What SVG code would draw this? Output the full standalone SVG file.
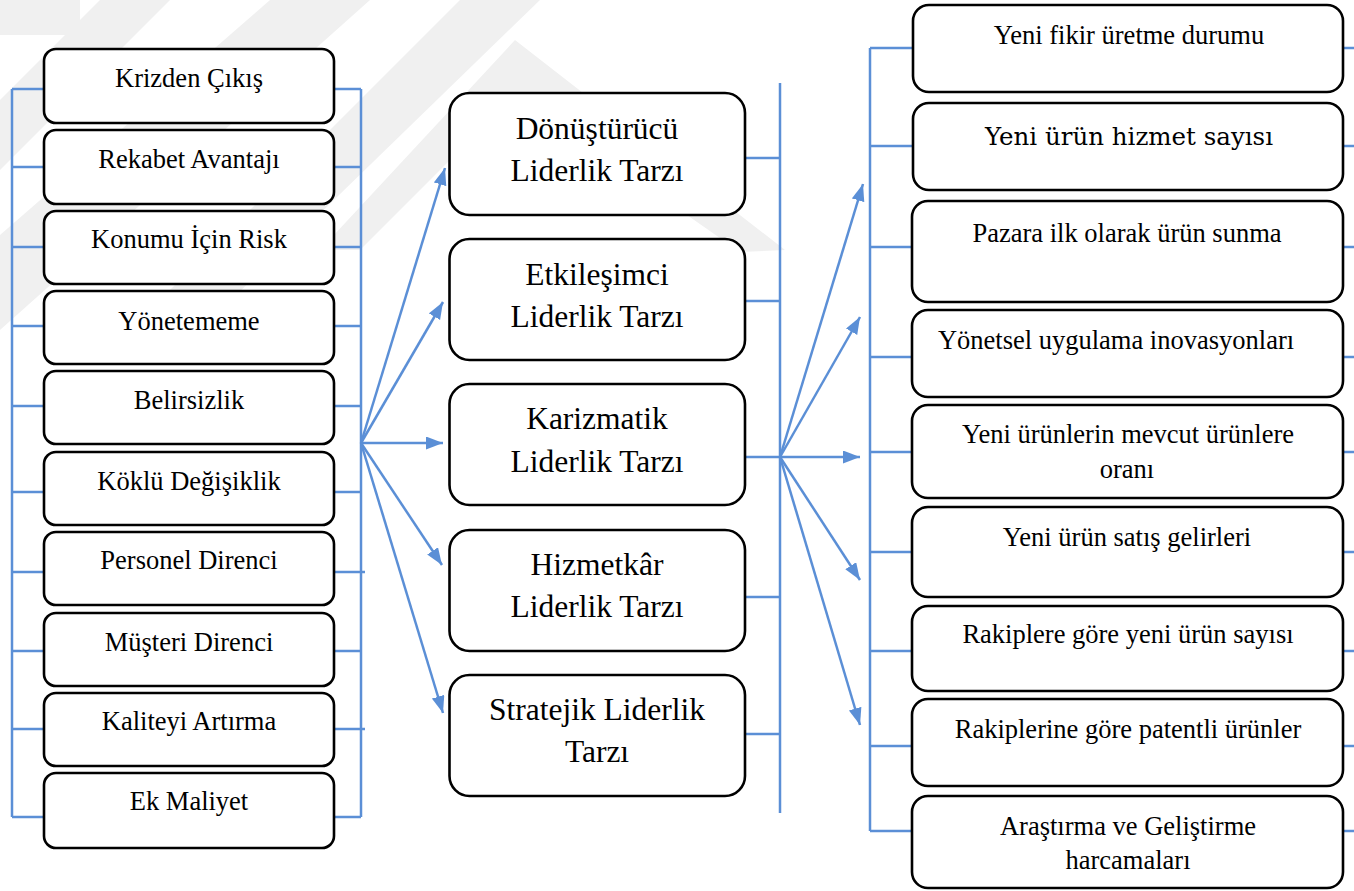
<svg xmlns="http://www.w3.org/2000/svg" width="1354" height="891" viewBox="0 0 1354 891">
<defs>
<style>
.box{fill:#ffffff;stroke:#000000;stroke-width:2.6}
.ln{fill:none;stroke:#5B8FD6;stroke-width:2.5}
text{font-family:'Liberation Serif','Times New Roman',Times,serif;fill:#000000;text-anchor:middle}
.s{font-size:26.5px}
.m{font-size:31.5px}
text.c{font-family:'DejaVu Serif',serif;font-size:24.5px}
.wm{fill:#f0f0f0}
</style>
<marker id="ah" markerUnits="userSpaceOnUse" markerWidth="18" markerHeight="14" refX="17" refY="6.5" orient="auto">
<path d="M0,0 L17,6.5 L0,13 z" fill="#5B8FD6"/>
</marker>
</defs>
<rect width="1354" height="891" fill="#ffffff"/>
<g id="watermark">
<polygon class="wm" points="0,0 80,0 80,35 0,35"/>
<polygon class="wm" points="100,0 170,0 0,170 0,100"/>
<polygon class="wm" points="270,0 370,0 0,330 0,235"/>
<polygon class="wm" points="460,0 540,0 200,330 130,330"/>
<polygon class="wm" points="515,40 785,250 740,252 515,95 360,250 320,250"/>
</g>
<g id="connectors">
<path class="ln" d="M12,89 V817 M361,89 V817"/>
<path class="ln" d="M12,89 H44 M12,167 H44 M12,247 H44 M12,326 H44 M12,406 H44 M12,492 H44 M12,572 H44 M12,651 H44 M12,729 H44 M12,817 H44"/>
<path class="ln" d="M334,89 H361 M334,167 H361 M334,247 H361 M334,326 H361 M334,406 H361 M334,492 H361 M334,572 H365 M334,651 H361 M334,729 H365 M334,817 H361"/>
<path class="ln" d="M361,443 L445,168" marker-end="url(#ah)"/>
<path class="ln" d="M361,443 L443,302" marker-end="url(#ah)"/>
<path class="ln" d="M361,443 L443,443" marker-end="url(#ah)"/>
<path class="ln" d="M361,443 L442,565" marker-end="url(#ah)"/>
<path class="ln" d="M361,443 L443,713" marker-end="url(#ah)"/>
<path class="ln" d="M780,83 V813"/>
<path class="ln" d="M745,158 H780 M745,301 H780 M745,457 H780 M745,597 H780 M745,734 H780"/>
<path class="ln" d="M780,457 L863,184" marker-end="url(#ah)"/>
<path class="ln" d="M780,457 L860,317" marker-end="url(#ah)"/>
<path class="ln" d="M780,457 L860,457" marker-end="url(#ah)"/>
<path class="ln" d="M780,457 L860,580" marker-end="url(#ah)"/>
<path class="ln" d="M780,457 L860,725" marker-end="url(#ah)"/>
<path class="ln" d="M870,48 V831"/>
<path class="ln" d="M870,48 H912 M870,146 H912 M870,247 H912 M870,357 H912 M870,452 H912 M870,552 H912 M870,651 H912 M870,746 H912 M870,831 H912"/>
<path class="ln" d="M1343,48 H1354 M1343,146 H1354 M1343,247 H1354 M1343,357 H1354 M1343,452 H1354 M1343,552 H1354 M1343,651 H1354 M1343,746 H1354 M1343,831 H1354"/>
</g>
<g id="l1"><rect class="box" x="44" y="49" width="290" height="74" rx="12"/><text class="s" x="189" y="87">Krizden Çıkış</text></g>
<g id="l2"><rect class="box" x="44" y="130" width="290" height="74" rx="12"/><text class="s" x="189" y="168">Rekabet Avantajı</text></g>
<g id="l3"><rect class="box" x="44" y="211" width="290" height="73" rx="12"/><text class="s" x="189" y="248">Konumu İçin Risk</text></g>
<g id="l4"><rect class="box" x="44" y="291" width="290" height="73" rx="12"/><text class="s" x="189" y="330">Yönetememe</text></g>
<g id="l5"><rect class="box" x="44" y="371" width="290" height="73" rx="12"/><text class="s" x="189" y="409">Belirsizlik</text></g>
<g id="l6"><rect class="box" x="44" y="452" width="290" height="73" rx="12"/><text class="s" x="189" y="490">Köklü Değişiklik</text></g>
<g id="l7"><rect class="box" x="44" y="532" width="290" height="73" rx="12"/><text class="s" x="189" y="569">Personel Direnci</text></g>
<g id="l8"><rect class="box" x="44" y="613" width="290" height="73" rx="12"/><text class="s" x="189" y="651">Müşteri Direnci</text></g>
<g id="l9"><rect class="box" x="44" y="693" width="290" height="73" rx="12"/><text class="s" x="189" y="730">Kaliteyi Artırma</text></g>
<g id="l10"><rect class="box" x="44" y="773" width="290" height="75" rx="12"/><text class="s" x="189" y="810">Ek Maliyet</text></g>
<g id="m1"><rect class="box" x="449.5" y="93" width="295.5" height="122" rx="20"/><text class="m" x="597" y="139">Dönüştürücü</text><text class="m" x="597" y="181">Liderlik Tarzı</text></g>
<g id="m2"><rect class="box" x="449.5" y="239" width="295.5" height="121" rx="20"/><text class="m" x="597" y="285">Etkileşimci</text><text class="m" x="597" y="327">Liderlik Tarzı</text></g>
<g id="m3"><rect class="box" x="449.5" y="384" width="295.5" height="121" rx="20"/><text class="m" x="597" y="429">Karizmatik</text><text class="m" x="597" y="472">Liderlik Tarzı</text></g>
<g id="m4"><rect class="box" x="449.5" y="530" width="295.5" height="121" rx="20"/><text class="m" x="597" y="575">Hizmetkâr</text><text class="m" x="597" y="617">Liderlik Tarzı</text></g>
<g id="m5"><rect class="box" x="449.5" y="675" width="295.5" height="121" rx="20"/><text class="m" x="597" y="720">Stratejik Liderlik</text><text class="m" x="597" y="762">Tarzı</text></g>
<g id="r1"><rect class="box" x="913" y="5" width="430" height="87" rx="16"/><text class="s" x="1129" y="44">Yeni fikir üretme durumu</text></g>
<g id="r2"><rect class="box" x="913" y="103" width="430" height="87" rx="16"/><text class="c" x="1129" y="145">Yeni ürün hizmet sayısı</text></g>
<g id="r3"><rect class="box" x="912" y="201" width="431" height="101" rx="16"/><text class="s" x="1127" y="242">Pazara ilk olarak ürün sunma</text></g>
<g id="r4"><rect class="box" x="912" y="310" width="431" height="87" rx="16"/><text class="s" x="1116" y="349">Yönetsel uygulama inovasyonları</text></g>
<g id="r5"><rect class="box" x="912" y="405" width="431" height="93" rx="16"/><text class="s" x="1128" y="443">Yeni ürünlerin mevcut ürünlere</text><text class="s" x="1127" y="478">oranı</text></g>
<g id="r6"><rect class="box" x="912" y="507" width="431" height="90" rx="16"/><text class="s" x="1127" y="546">Yeni ürün satış gelirleri</text></g>
<g id="r7"><rect class="box" x="912" y="606" width="431" height="85" rx="16"/><text class="s" x="1128" y="643">Rakiplere göre yeni ürün sayısı</text></g>
<g id="r8"><rect class="box" x="912" y="699" width="431" height="87" rx="16"/><text class="s" x="1128" y="738">Rakiplerine göre patentli ürünler</text></g>
<g id="r9"><rect class="box" x="912" y="796" width="431" height="92" rx="16"/><text class="s" x="1128" y="835">Araştırma ve Geliştirme</text><text class="s" x="1128" y="869">harcamaları</text></g>
</svg>
